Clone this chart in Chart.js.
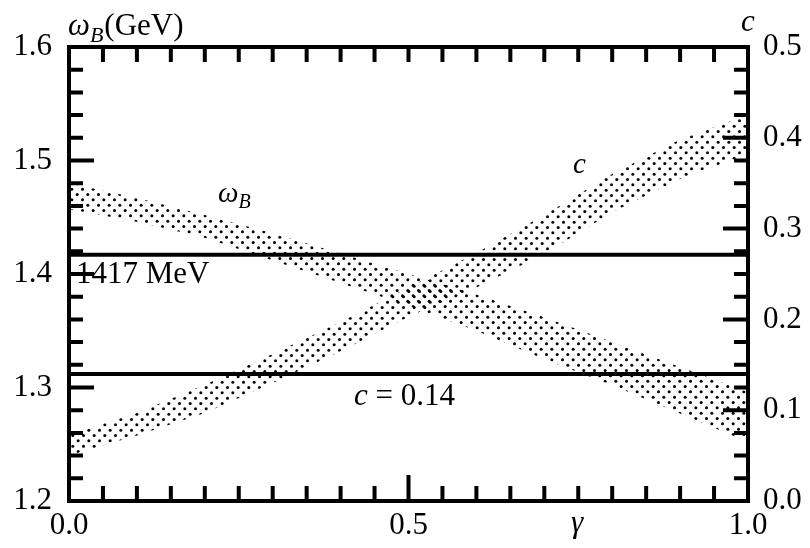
<!DOCTYPE html>
<html>
<head>
<meta charset="utf-8">
<script src="https://cdn.jsdelivr.net/npm/chart.js@4/dist/chart.umd.min.js"></script>
<style>
  html, body { margin: 0; padding: 0; background: #fff; }
  canvas { display: block; }
</style>
</head>
<body>
<canvas id="chart" width="810" height="548"></canvas>
<script>
const gammaGrid = [0.0, 0.1, 0.2, 0.3, 0.4, 0.5, 0.6, 0.7, 0.8, 0.9, 1.0];
// omega_B band (GeV), left axis
const omegaUpper = [1.480, 1.467, 1.452, 1.436, 1.418, 1.400, 1.382, 1.362, 1.340, 1.318, 1.296];
const omegaLower = [1.457, 1.446, 1.432, 1.412, 1.392, 1.372, 1.350, 1.325, 1.302, 1.277, 1.252];
// c band, right axis
const cUpper = [0.073, 0.097, 0.128, 0.162, 0.197, 0.235, 0.273, 0.315, 0.360, 0.398, 0.425];
const cLower = [0.050, 0.072, 0.097, 0.130, 0.165, 0.203, 0.235, 0.272, 0.318, 0.355, 0.382];
// reference lines
const omegaRef = 1.417;
const cRef = 0.14;
// tick labels
const xTickValues = [0.0, 0.5, 1.0];
const leftTickValues = [1.2, 1.3, 1.4, 1.5, 1.6];
const rightTickValues = [0.0, 0.1, 0.2, 0.3, 0.4, 0.5];

const FONT = '"Liberation Serif", "Times New Roman", serif';

// staggered dot screen, 3x3 cells per 32px tile
function dotPattern(shift) {
    const tile = document.createElement('canvas');
    tile.width = 32;
    tile.height = 32;
    const t = tile.getContext('2d');
    t.fillStyle = '#000';
    const step = 32 / 3;
    for (let i = 0; i < 3; i++) {
        for (let j = 0; j < 3; j++) {
            [[0, 0], [step / 2, step / 2]].forEach(function (o) {
                const cx = (i * step + o[0] + 2.5 + shift) % 32;
                const cy = (j * step + o[1] + 2.5 + shift) % 32;
                t.beginPath();
                t.arc(cx, cy, 1.5, 0, Math.PI * 2);
                t.fill();
            });
        }
    }
    return t.createPattern(tile, 'repeat');
}

function pts(xs, ys) {
    return xs.map(function (x, i) { return { x: x, y: ys[i] }; });
}

const bandLine = { borderWidth: 0, pointRadius: 0, borderColor: 'rgba(0,0,0,0)', tension: 0 };

// frame, inward ticks and labels
const framePlugin = {
    id: 'frame',
    afterDraw(chart) {
        const ctx = chart.ctx;
        const a = chart.chartArea;
        const xs = chart.scales.x, yl = chart.scales.y, yr = chart.scales.y2;
        ctx.save();
        ctx.strokeStyle = '#000';
        ctx.lineWidth = 4;
        ctx.strokeRect(a.left, a.top, a.right - a.left, a.bottom - a.top);

        ctx.beginPath();
        // x ticks every 0.05
        for (let i = 1; i < 20; i++) {
            const px = xs.getPixelForValue(i * 0.05);
            const len = (i % 10 === 0) ? 26 : 15;
            ctx.moveTo(px, a.bottom);
            ctx.lineTo(px, a.bottom - len);
            ctx.moveTo(px, a.top);
            ctx.lineTo(px, a.top + 15);
        }
        // left ticks every 0.02
        for (let i = 1; i < 20; i++) {
            const py = yl.getPixelForValue(1.2 + i * 0.02);
            const len = (i % 5 === 0) ? 25 : 14;
            ctx.moveTo(a.left, py);
            ctx.lineTo(a.left + len, py);
        }
        // right ticks every 0.025
        for (let i = 1; i < 20; i++) {
            const py = yr.getPixelForValue(i * 0.025);
            const len = (i % 4 === 0) ? 25 : 14;
            ctx.moveTo(a.right, py);
            ctx.lineTo(a.right - len, py);
        }
        ctx.stroke();

        ctx.fillStyle = '#000';
        ctx.textBaseline = 'alphabetic';
        ctx.textAlign = 'left';

        function omegaB(x, y, size) {
            ctx.font = 'italic ' + size + 'px ' + FONT;
            ctx.fillText('ω', x, y);
            const w = ctx.measureText('ω').width;
            ctx.font = 'italic ' + Math.round(size * 0.7) + 'px ' + FONT;
            ctx.fillText('B', x + w, y + size * 0.22);
            return x + w + ctx.measureText('B').width;
        }

        // axis titles
        let xe = omegaB(68, 35, 31);
        ctx.font = '31px ' + FONT;
        ctx.fillText('(GeV)', xe + 1, 35);

        ctx.font = 'italic 31px ' + FONT;
        ctx.fillText('c', 741, 31);
        ctx.fillText('γ', 571, 532);

        // band labels
        omegaB(218, 202, 29);
        ctx.font = 'italic 29px ' + FONT;
        ctx.fillText('c', 573, 173);

        // reference line labels
        ctx.font = '31px ' + FONT;
        ctx.fillText('1417 MeV', 76, 283);
        ctx.font = 'italic 31px ' + FONT;
        ctx.fillText('c', 354, 405);
        const cw = ctx.measureText('c').width;
        ctx.font = '31px ' + FONT;
        ctx.fillText(' = 0.14', 354 + cw, 405);
        ctx.restore();
    }
};

new Chart(document.getElementById('chart'), {
    type: 'line',
    data: {
        datasets: [
            Object.assign({ data: pts(gammaGrid, omegaUpper), yAxisID: 'y', fill: false }, bandLine),
            Object.assign({ data: pts(gammaGrid, omegaLower), yAxisID: 'y', fill: '-1', backgroundColor: dotPattern(0) }, bandLine),
            Object.assign({ data: pts(gammaGrid, cUpper), yAxisID: 'y2', fill: false }, bandLine),
            Object.assign({ data: pts(gammaGrid, cLower), yAxisID: 'y2', fill: '-1', backgroundColor: dotPattern(1) }, bandLine),
            {
                data: [{ x: 0, y: omegaRef }, { x: 1, y: omegaRef }],
                yAxisID: 'y', borderColor: '#000', borderWidth: 4, pointRadius: 0, fill: false
            },
            {
                data: [{ x: 0, y: cRef }, { x: 1, y: cRef }],
                yAxisID: 'y2', borderColor: '#000', borderWidth: 4, pointRadius: 0, fill: false
            }
        ]
    },
    options: {
        responsive: false,
        animation: false,
        layout: { padding: { top: 47, left: 0, right: 0, bottom: 0 } },
        plugins: { legend: { display: false }, tooltip: { enabled: false } },
        scales: {
            x: {
                type: 'linear', min: 0, max: 1,
                grid: { display: false, drawTicks: false },
                border: { display: false },
                afterBuildTicks(s) { s.ticks = xTickValues.map(function (v) { return { value: v }; }); },
                afterFit(s) { s.height = 47; },
                ticks: {
                    padding: 6, color: '#000', maxRotation: 0, autoSkip: false,
                    font: { family: FONT, size: 31 },
                    callback: function (v) { return Number(v).toFixed(1); }
                }
            },
            y: {
                type: 'linear', position: 'left', min: 1.2, max: 1.6,
                grid: { display: false, drawTicks: false },
                border: { display: false },
                afterBuildTicks(s) { s.ticks = leftTickValues.map(function (v) { return { value: v }; }); },
                afterFit(s) { s.width = 69; },
                ticks: {
                    padding: 17, color: '#000', autoSkip: false,
                    font: { family: FONT, size: 31 },
                    callback: function (v) { return Number(v).toFixed(1); }
                }
            },
            y2: {
                type: 'linear', position: 'right', min: 0, max: 0.5,
                grid: { display: false, drawTicks: false },
                border: { display: false },
                afterBuildTicks(s) { s.ticks = rightTickValues.map(function (v) { return { value: v }; }); },
                afterFit(s) { s.width = 62; },
                ticks: {
                    padding: 15, color: '#000', autoSkip: false,
                    font: { family: FONT, size: 31 },
                    callback: function (v) { return Number(v).toFixed(1); }
                }
            }
        }
    },
    plugins: [framePlugin]
});
</script>
</body>
</html>
